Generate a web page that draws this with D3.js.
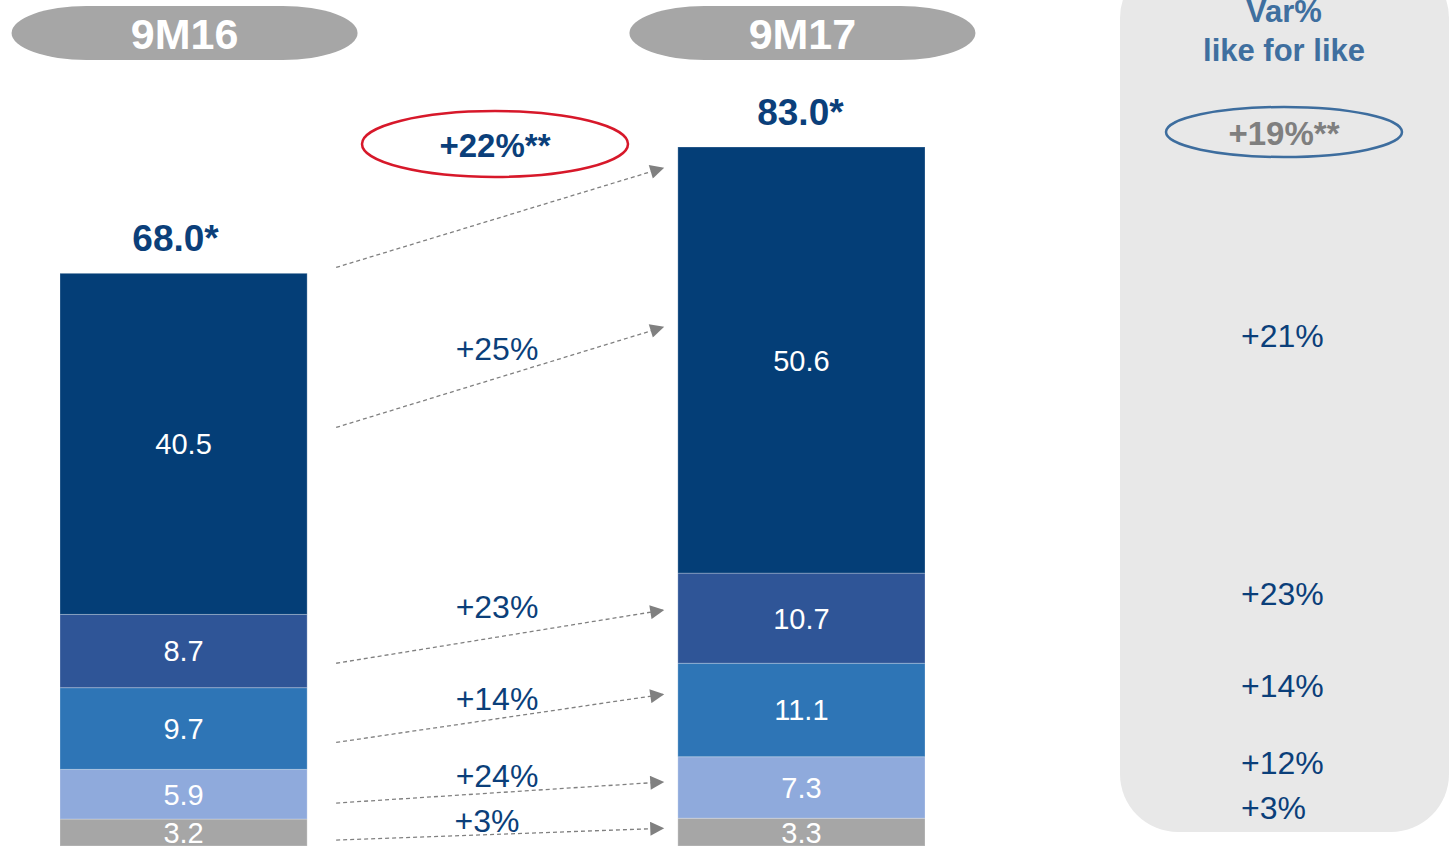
<!DOCTYPE html>
<html>
<head>
<meta charset="utf-8">
<script src="https://cdn.jsdelivr.net/npm/d3@7"></script>
<style>
  body { margin: 0; background: #fff; }
  svg { display: block; font-family: "Liberation Sans", Arial, sans-serif; }
</style>
</head>
<body>
<svg id="drawing_region"></svg>
<script>
// periods and stacked segments (bottom to top)
const periods = ['9M16', '9M17'];
const segKeys = ['e', 'd', 'c', 'b', 'a'];
const values9M16 = [3.2, 5.9, 9.7, 8.7, 40.5];
const values9M17 = [3.3, 7.3, 11.1, 10.7, 50.6];
const totalLabels = ['68.0*', '83.0*'];

// growth between periods, per segment (bottom to top)
const growthLabels = ['+3%', '+24%', '+14%', '+23%', '+25%'];
const lflLabels = ['+3%', '+12%', '+14%', '+23%', '+21%'];
const totalGrowth = '+22%**';
const totalLfl = '+19%**';

// arrow anchors in value units (bottom to top, then the total)
const arrowFrom = [0.7, 5.1, 12.3, 21.7, 49.7, 68.7];
const arrowTo = [2.1, 7.6, 18.0, 28.0, 61.6, 80.5];

const colors = ['#a6a6a6', '#8faadc', '#2e75b6', '#2f5597', '#043e77'];
const navy = '#0b3f7a';

const width = 1449;
const height = 846;

const svg = d3.select('#drawing_region')
    .attr('width', width)
    .attr('height', height);

const defs = svg.append('defs');
defs.append('marker')
    .attr('id', 'arrow')
    .attr('viewBox', '0 0 10 10')
    .attr('refX', 9)
    .attr('refY', 5)
    .attr('markerWidth', 16)
    .attr('markerHeight', 14)
    .attr('markerUnits', 'userSpaceOnUse')
    .attr('orient', 'auto')
    .append('path')
    .attr('d', 'M0,0 L10,5 L0,10 Z')
    .attr('fill', '#808080');

const xscale = d3.scaleBand()
    .domain(periods)
    .range([60, 925])
    .paddingInner(0.6)
    .paddingOuter(0);

const yscale = d3.scaleLinear()
    .domain([0, 83])
    .range([846, 147]);

// right-hand panel
svg.append('rect')
    .attr('x', 1120)
    .attr('y', -40)
    .attr('width', 329)
    .attr('height', 872)
    .attr('rx', 58)
    .attr('fill', '#e8e8e8');

// data rows for the stack
const rows = periods.map((p, i) => {
    const vals = i === 0 ? values9M16 : values9M17;
    const row = { period: p };
    segKeys.forEach((k, j) => row[k] = vals[j]);
    return row;
});

const series = d3.stack().keys(segKeys)(rows);

const layers = svg.append('g')
    .selectAll('g')
    .data(series)
    .enter()
    .append('g')
    .attr('fill', (d, i) => colors[i]);

layers.selectAll('rect')
    .data(d => d)
    .enter()
    .append('rect')
    .attr('x', d => xscale(d.data.period))
    .attr('y', d => yscale(d[1]))
    .attr('width', xscale.bandwidth())
    .attr('height', d => yscale(d[0]) - yscale(d[1]))
    .attr('stroke', 'rgba(255,255,255,0.25)')
    .attr('stroke-width', 1);

layers.selectAll('text')
    .data(d => d.map(v => ({ v: v, key: d.key })))
    .enter()
    .append('text')
    .attr('x', d => xscale(d.v.data.period) + xscale.bandwidth() / 2)
    .attr('y', d => (yscale(d.v[0]) + yscale(d.v[1])) / 2)
    .attr('dy', '0.36em')
    .attr('text-anchor', 'middle')
    .attr('font-size', '29px')
    .attr('fill', '#fff')
    .text(d => d.v.data[d.key].toFixed(1));

// period pills
periods.forEach((p, i) => {
    const cx = xscale(p) + xscale.bandwidth() / 2 + 1;
    svg.append('rect')
        .attr('x', cx - 173)
        .attr('y', 6)
        .attr('width', 346)
        .attr('height', 54)
        .attr('rx', 75)
        .attr('ry', 27)
        .attr('fill', '#a6a6a6');
    svg.append('text')
        .attr('x', cx)
        .attr('y', 49)
        .attr('text-anchor', 'middle')
        .attr('font-size', '43px')
        .attr('font-weight', 'bold')
        .attr('fill', '#fff')
        .text(p);
});

// totals above bars
const totals = [d3.sum(values9M16), d3.sum(values9M17)];
periods.forEach((p, i) => {
    svg.append('text')
        .attr('x', xscale(p) + xscale.bandwidth() / 2 - 8 + i * 7)
        .attr('y', yscale(totals[i]) - 22)
        .attr('text-anchor', 'middle')
        .attr('font-size', '37px')
        .attr('font-weight', 'bold')
        .attr('fill', navy)
        .text(totalLabels[i]);
});

// dashed arrows
const x0 = xscale('9M16') + xscale.bandwidth() + 29;
const x1 = xscale('9M17') - 15;
svg.append('g')
    .selectAll('line')
    .data(arrowFrom)
    .enter()
    .append('line')
    .attr('x1', x0)
    .attr('y1', d => yscale(d))
    .attr('x2', x1)
    .attr('y2', (d, i) => yscale(arrowTo[i]))
    .attr('stroke', '#808080')
    .attr('stroke-width', 1.3)
    .attr('stroke-dasharray', '4,3')
    .attr('marker-end', 'url(#arrow)');

// growth labels between bars, at the mid of each 9M17 segment
const mids17 = series.map(s => (yscale(s[1][0]) + yscale(s[1][1])) / 2);
svg.append('g')
    .selectAll('text')
    .data(growthLabels)
    .enter()
    .append('text')
    .attr('x', (d, i) => i === 0 ? 487 : 497)
    .attr('y', (d, i) => mids17[i])
    .attr('text-anchor', 'middle')
    .attr('font-size', '32px')
    .attr('fill', navy)
    .text(d => d);

// total growth in red ellipse
svg.append('ellipse')
    .attr('cx', 495)
    .attr('cy', 144)
    .attr('rx', 133)
    .attr('ry', 33)
    .attr('fill', 'none')
    .attr('stroke', '#d7182a')
    .attr('stroke-width', 2.5);
svg.append('text')
    .attr('x', 495)
    .attr('y', 157)
    .attr('text-anchor', 'middle')
    .attr('font-size', '33px')
    .attr('font-weight', 'bold')
    .attr('fill', navy)
    .text(totalGrowth);

// like for like panel
svg.append('text')
    .attr('x', 1284)
    .attr('y', 22)
    .attr('text-anchor', 'middle')
    .attr('font-size', '31px')
    .attr('font-weight', 'bold')
    .attr('fill', '#3f6f9f')
    .text('Var%');
svg.append('text')
    .attr('x', 1284)
    .attr('y', 61)
    .attr('text-anchor', 'middle')
    .attr('font-size', '31px')
    .attr('font-weight', 'bold')
    .attr('fill', '#3f6f9f')
    .text('like for like');

svg.append('ellipse')
    .attr('cx', 1284)
    .attr('cy', 132)
    .attr('rx', 118)
    .attr('ry', 25)
    .attr('fill', 'none')
    .attr('stroke', '#3d6d9e')
    .attr('stroke-width', 2.5);
svg.append('text')
    .attr('x', 1284)
    .attr('y', 145)
    .attr('text-anchor', 'middle')
    .attr('font-size', '33px')
    .attr('font-weight', 'bold')
    .attr('fill', '#7f7f7f')
    .text(totalLfl);

svg.append('g')
    .selectAll('text')
    .data(lflLabels)
    .enter()
    .append('text')
    .attr('x', 1241)
    .attr('y', (d, i) => mids17[i] - 13)
    .attr('font-size', '32px')
    .attr('fill', navy)
    .text(d => d);
</script>
</body>
</html>
